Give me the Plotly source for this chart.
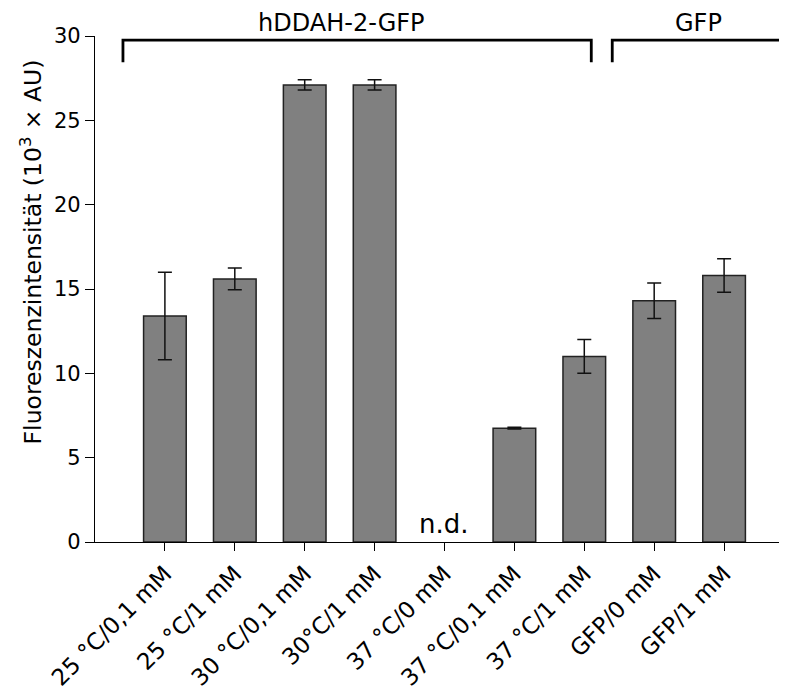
import plotly.graph_objects as go

categories = ["25 °C/0,1 mM", "25 °C/1 mM", "30 °C/0,1 mM", "30°C/1 mM", "37 °C/0 mM",
              "37 °C/0,1 mM", "37 °C/1 mM", "GFP/0 mM", "GFP/1 mM"]
values = [13.4, 15.6, 27.1, 27.1, None, 6.75, 11.0, 14.3, 15.8]
errors = [2.6, 0.65, 0.3, 0.3, 0, 0.05, 1.0, 1.05, 1.0]
y_ticks = [0, 5, 10, 15, 20, 25, 30]

xs = list(range(len(categories)))
font = "DejaVu Sans"

fig = go.Figure()
fig.add_trace(go.Bar(
    x=xs, y=values, width=0.61,
    marker=dict(color="#808080", line=dict(color="#222222", width=1.5)),
    error_y=dict(type="data", array=errors, visible=True, color="#111111", thickness=1.5, width=7),
    showlegend=False,
))

# brackets
def bracket(x0, x1, label, lx):
    fig.add_shape(type="path", xref="x", yref="y",
                  path=f"M {x0},28.45 L {x0},29.76 L {x1},29.76 L {x1},28.45",
                  line=dict(color="black", width=2.8))
    fig.add_annotation(x=lx, y=1.026, xref="x", yref="paper", text=label, showarrow=False,
                       yanchor="middle", font=dict(family=font, size=24, color="black"))

bracket(-0.6, 6.1, "hDDAH-2-GFP", 2.52)
bracket(6.4, 8.85, "GFP", 7.63)

fig.add_annotation(x=4, y=1.07, xref="x", yref="y", text="n.d.", showarrow=False,
                   yanchor="middle", font=dict(family=font, size=26, color="black"))

# y-axis title (placed off-centre as in the reference)
fig.add_annotation(x=-0.092, y=0.573, xref="paper", yref="paper", textangle=-90,
                   text="Fluoreszenzintensität (10<sup>3</sup> × AU)", showarrow=False,
                   xanchor="center", yanchor="middle", font=dict(family=font, size=23.5, color="black"))

fig.update_layout(
    width=787, height=693,
    margin=dict(l=87, r=8, t=28, b=159, autoexpand=False),
    plot_bgcolor="white", paper_bgcolor="white",
    font=dict(family=font, size=20, color="black"),
    xaxis=dict(range=[-1, 8.9], tickmode="array", tickvals=xs, ticktext=categories,
               tickangle=-45, ticks="outside", ticklen=8, tickcolor="black", tickwidth=1.3,
               showline=True, linecolor="black", linewidth=1.3, showgrid=False, zeroline=False,
               tickfont=dict(family=font, size=23)),
    yaxis=dict(range=[0, 30], tickvals=y_ticks, ticks="outside", ticklen=9, tickcolor="black",
               tickwidth=1.3, showline=True, linecolor="black", linewidth=1.3, showgrid=False,
               zeroline=False, tickfont=dict(family=font, size=21)),
)

fig.write_html("out.html")
